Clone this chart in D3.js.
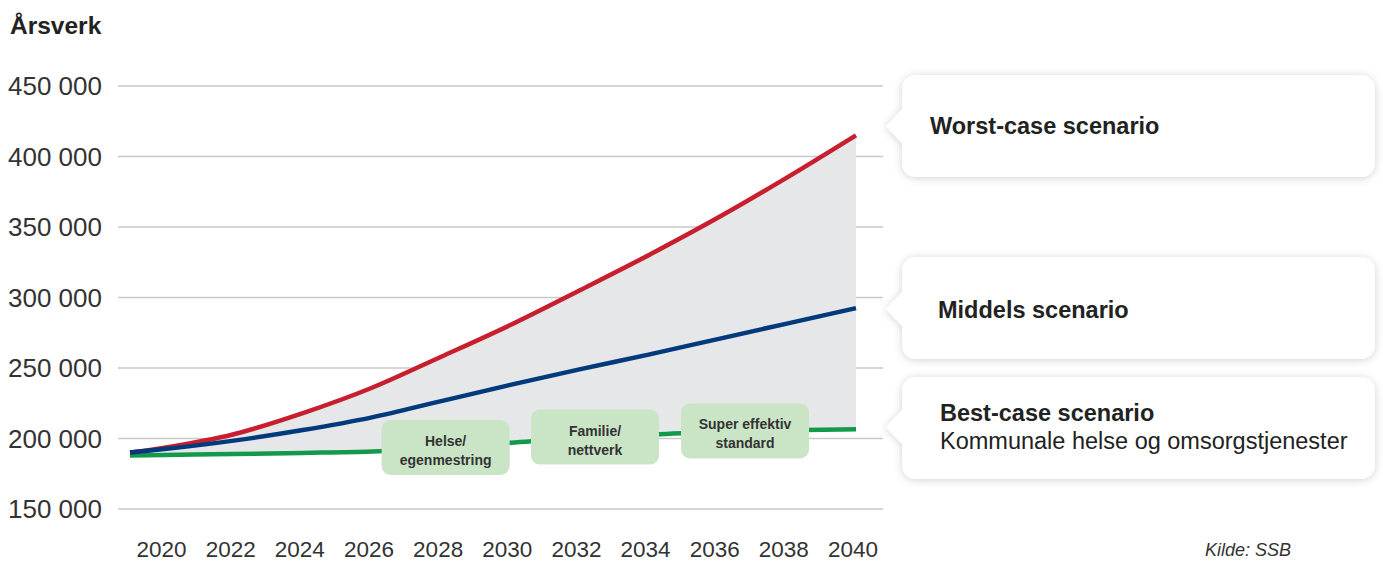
<!DOCTYPE html>
<html><head><meta charset="utf-8">
<script src="https://cdn.jsdelivr.net/npm/d3@7/dist/d3.min.js"></script>
<style>body{margin:0;background:#fff}svg{display:block}text{font-family:"Liberation Sans",Arial,sans-serif}</style>
</head><body>
<svg id="c" width="1383" height="562"></svg>
<script>
const years = [2019,2020,2022,2024,2026,2028,2030,2032,2034,2036,2038,2040];
const worstCase = [190000,193500,203000,218000,236000,258000,280500,305000,330000,356500,385000,415000];
const middels   = [190000,192500,198500,206000,215000,226500,238000,249000,259500,270500,281500,292500];
const bestCase  = [188000,188300,189000,189800,190800,193000,197000,200000,202800,204500,205800,206600];
const yTicks = [150000,200000,250000,300000,350000,400000,450000];
const xTicks = [2020,2022,2024,2026,2028,2030,2032,2034,2036,2038,2040];
const measures = [
  {year:2028.13, lines:["Helse/","egenmestring"]},
  {year:2032.45, lines:["Familie/","nettverk"]},
  {year:2036.79, lines:["Super effektiv","standard"]}
];
const callouts = [
  {value:415000, title:"Worst-case scenario", sub:null},
  {value:292500, title:"Middels scenario", sub:null},
  {value:206600, title:"Best-case scenario", sub:"Kommunale helse og omsorgstjenester"}
];

const svg = d3.select("#c");
const x = d3.scaleLinear().domain([2019,2040]).range([130,856]);
const y = d3.scaleLinear().domain([150000,450000]).range([509,86]);

const defs = svg.append("defs");
const f = defs.append("filter").attr("id","sh").attr("x","-10%").attr("y","-30%").attr("width","120%").attr("height","160%");
f.append("feDropShadow").attr("dx",0).attr("dy",1).attr("stdDeviation",4).attr("flood-color","#000").attr("flood-opacity",0.18);

// grid
svg.append("g").selectAll("line").data(yTicks).join("line")
  .attr("x1",118).attr("x2",883).attr("y1",d=>y(d)).attr("y2",d=>y(d))
  .attr("stroke","#c9c9c9").attr("stroke-width",1.4);
svg.append("g").selectAll("text").data(yTicks).join("text")
  .attr("x",8).attr("y",d=>y(d)+9).attr("font-size",26).attr("fill","#333")
  .text(d=>d3.format(",")(d).replace(/,/g," "));
svg.append("text").attr("x",10).attr("y",34).attr("font-size",24.5).attr("fill","#222").attr("font-weight","bold").text("Årsverk");

// x labels
svg.append("g").selectAll("text").data(xTicks).join("text")
  .attr("x",d=>x(d)-3).attr("y",557).attr("text-anchor","middle").attr("font-size",22.5).attr("fill","#333").text(d=>d);

const curve = d3.curveMonotoneX;
const area = d3.area().x((d,i)=>x(years[i])).y0((d,i)=>y(bestCase[i])).y1(d=>y(d)).curve(curve);
svg.append("path").attr("d",area(worstCase)).attr("fill","#e6e7e9");

const line = d3.line().x((d,i)=>x(years[i])).y(d=>y(d)).curve(curve);
svg.append("path").attr("d",line(bestCase)).attr("fill","none").attr("stroke","#12994a").attr("stroke-width",4.5);
svg.append("path").attr("d",line(worstCase)).attr("fill","none").attr("stroke","#c81f2f").attr("stroke-width",4.5);
svg.append("path").attr("d",line(middels)).attr("fill","none").attr("stroke","#003a7d").attr("stroke-width",4.5);

// measure boxes
const bestAt = d3.scaleLinear().domain(years).range(bestCase);
const mg = svg.append("g").selectAll("g").data(measures).join("g")
  .attr("transform",d=>`translate(${x(d.year)},${y(bestAt(d.year))})`);
mg.append("rect").attr("x",-64).attr("y",-28).attr("width",128).attr("height",55).attr("rx",9).attr("fill","#c9e5c6");
mg.each(function(d){
  const g=d3.select(this);
  d.lines.forEach((t,i)=>g.append("text").attr("x",0).attr("y",-2+i*19).attr("text-anchor","middle")
    .attr("font-size",14).attr("font-weight","bold").attr("fill","#333").text(t));
});

// callouts
const boxTops = [75,257,377];
callouts.forEach((c,i)=>{
  const top = boxTops[i], h=102, left=902, right=1375, r=14;
  const tipY = i===2 ? 427 : y(c.value)-(i===0?9:-1);
  const ah=17;
  const p = d3.path();
  p.moveTo(left+r,top); p.lineTo(right-r,top); p.arcTo(right,top,right,top+r,r);
  p.lineTo(right,top+h-r); p.arcTo(right,top+h,right-r,top+h,r);
  p.lineTo(left+r,top+h); p.arcTo(left,top+h,left,top+h-r,r);
  p.lineTo(left,tipY+ah); p.lineTo(886,tipY); p.lineTo(left,tipY-ah);
  p.lineTo(left,top+r); p.arcTo(left,top,left+r,top,r); p.closePath();
  svg.append("path").attr("d",p.toString()).attr("fill","#fff").attr("filter","url(#sh)");
  if(c.sub){
    svg.append("text").attr("x",940).attr("y",421).attr("font-size",23.5).attr("font-weight","bold").attr("fill","#222").text(c.title);
    svg.append("text").attr("x",940).attr("y",449).attr("font-size",23.5).attr("fill","#222").text(c.sub);
  } else {
    svg.append("text").attr("x",i===0?930:938).attr("y",top+(i===0?59:61)).attr("font-size",23.5).attr("font-weight","bold").attr("fill","#222").text(c.title);
  }
});

svg.append("text").attr("x",1205).attr("y",556).attr("font-size",18).attr("font-style","italic").attr("fill","#333").text("Kilde: SSB");
</script>
</body></html>
